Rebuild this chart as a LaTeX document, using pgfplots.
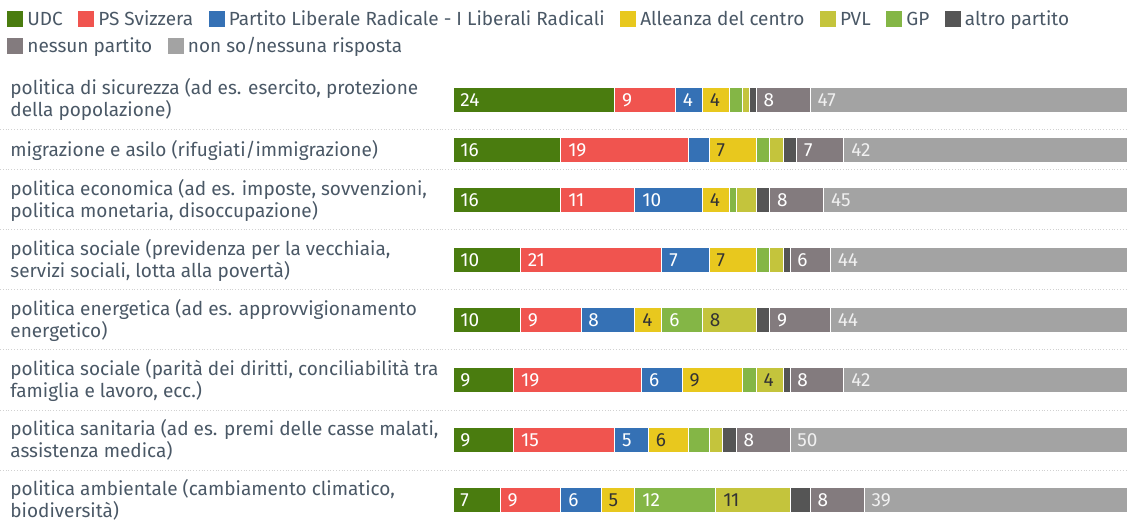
\documentclass[border=0pt]{standalone}
\usepackage{pgfplots}
\pgfplotsset{compat=1.18}
\usepackage{pgfplotstable}
\usepackage{fontspec}
\setmainfont{Fira Sans}

\definecolor{udc}{HTML}{4A7C0F}
\definecolor{ps}{HTML}{F0544F}
\definecolor{plr}{HTML}{3571B5}
\definecolor{adc}{HTML}{E8C81E}
\definecolor{pvl}{HTML}{C4C43C}
\definecolor{gp}{HTML}{84B646}
\definecolor{altro}{HTML}{555555}
\definecolor{nessuno}{HTML}{837B7E}
\definecolor{nonso}{HTML}{A3A3A3}
\definecolor{txt}{HTML}{4A5866}
\definecolor{dark}{HTML}{333333}

% y = row centre in pixels from the top (negated)
\pgfplotstableread{
y    udc ps plr adc gp pvl altro nessuno nonso
-100 24  9  4   4   2  1   1     8       47
-150 16  19 3   7   2  2   2     7       42
-200 16  11 10  4   1  3   2     8       45
-260 10  21 7   7   2  2   1     6       44
-320 10  9  8   4   6  8   2     9       44
-380 9   19 6   9   2  4   1     8       42
-440 9   15 5   6   3  2   2     8       50
-500 7   9  6   5   12 11  3     8       39
}\data

\pgfplotsset{
  frame/.style={scale only axis, width=563.5pt, height=259.5pt,
    xmin=-67.21, xmax=100, ymin=-519, ymax=0,
    xbar stacked, bar width=12.5pt},
  seg/.style={fill=#1, draw=white, line width=0.5pt},
  % invisible copy of the stack for the value labels; stacked labels sit
  % at the middle of a segment, so shift them back to its left end
  lbl/.style={draw=none, fill=none, point meta=explicit symbolic,
    nodes near coords={\ifdim\pgfplotspointmeta pt<3.5pt\else\pgfplotspointmeta\fi},
    every node near coord/.append style={anchor=west, text=#1, inner sep=0pt,
      xshift={-\pgfplotspointmeta*1.685pt+3.5pt}, font=\fontsize{9.5}{10}\selectfont}},
}
\newcommand{\leg}[1]{\textcolor{#1}{\rule[-0.7pt]{8pt}{8pt}}\hspace{2pt}}

\begin{document}
\begin{tikzpicture}
\begin{axis}[frame,
  axis line style={draw=none},
  xtick=\empty,
  major tick length=0pt,
  ytick={-100,-150,-200,-260,-320,-380,-440,-500},
  yticklabels={
    {politica di sicurezza (ad es. esercito, protezione\\della popolazione)},
    {migrazione e asilo (rifugiati/immigrazione)},
    {politica economica (ad es. imposte, sovvenzioni,\\politica monetaria, disoccupazione)},
    {politica sociale (previdenza per la vecchiaia,\\servizi sociali, lotta alla povertà)},
    {politica energetica (ad es. approvvigionamento\\energetico)},
    {politica sociale (parità dei diritti, conciliabilità tra\\famiglia e lavoro, ecc.)},
    {politica sanitaria (ad es. premi delle casse malati,\\assistenza medica)},
    {politica ambientale (cambiamento climatico,\\biodiversità)}},
  yticklabel style={anchor=west, align=left, xshift=5pt, text=txt,
    font=\fontsize{9.5}{11}\selectfont, inner sep=0pt},
  extra y ticks={-130,-170,-230,-290,-350,-410,-470},
  extra y tick labels={},
  extra y tick style={grid=major},
  major grid style={densely dotted, black!18, line width=0.5pt},
  clip=false,
]
\addplot[seg=udc]     table[x=udc, y=y]{\data};
\addplot[seg=ps]      table[x=ps, y=y]{\data};
\addplot[seg=plr]     table[x=plr, y=y]{\data};
\addplot[seg=adc]     table[x=adc, y=y]{\data};
\addplot[seg=gp]      table[x=gp, y=y]{\data};
\addplot[seg=pvl]     table[x=pvl, y=y]{\data};
\addplot[seg=altro]   table[x=altro, y=y]{\data};
\addplot[seg=nessuno] table[x=nessuno, y=y]{\data};
\addplot[seg=nonso]   table[x=nonso, y=y]{\data};

\node[anchor=west, inner sep=0pt, text=txt, font=\fontsize{9.5}{11}\selectfont]
  at (rel axis cs:0.0062,0.9615)
  {\leg{udc}UDC\hspace{7.8pt}\leg{ps}PS Svizzera\hspace{7.8pt}\leg{plr}Partito Liberale Radicale - I Liberali Radicali\hspace{7.8pt}\leg{adc}Alleanza del centro\hspace{7.8pt}\leg{pvl}PVL\hspace{7.8pt}\leg{gp}GP\hspace{7.8pt}\leg{altro}altro partito};
\node[anchor=west, inner sep=0pt, text=txt, font=\fontsize{9.5}{11}\selectfont]
  at (rel axis cs:0.0062,0.9094)
  {\leg{nessuno}nessun partito\hspace{7.8pt}\leg{nonso}non so/nessuna risposta};
\end{axis}

\begin{axis}[frame, hide axis, clip=false]
\addplot[lbl=white]          table[x=udc, y=y, meta=udc]{\data};
\addplot[lbl=white]          table[x=ps, y=y, meta=ps]{\data};
\addplot[lbl=white]          table[x=plr, y=y, meta=plr]{\data};
\addplot[lbl=dark]           table[x=adc, y=y, meta=adc]{\data};
\addplot[lbl=white]          table[x=gp, y=y, meta=gp]{\data};
\addplot[lbl=dark]           table[x=pvl, y=y, meta=pvl]{\data};
\addplot[lbl=white]          table[x=altro, y=y, meta=altro]{\data};
\addplot[lbl=white]          table[x=nessuno, y=y, meta=nessuno]{\data};
\addplot[lbl=white!94!black] table[x=nonso, y=y, meta=nonso]{\data};
\end{axis}
\pgfresetboundingbox
\path[use as bounding box] (current axis.south west) rectangle (current axis.north east);
\end{tikzpicture}
\end{document}
